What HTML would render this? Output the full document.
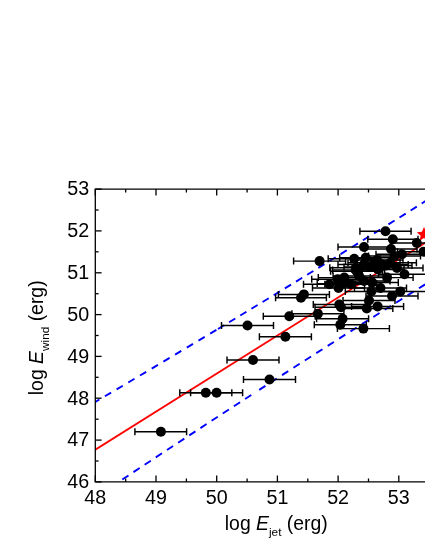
<!DOCTYPE html>
<html><head><meta charset="utf-8"><style>
html,body{margin:0;padding:0;background:#fff;}
body{width:425px;height:550px;position:relative;overflow:hidden;font-family:"Liberation Sans",sans-serif;}
</style></head><body>
<svg width="425" height="550" viewBox="0 0 425 550" style="position:absolute;left:0;top:0;will-change:transform">
<defs><clipPath id="c"><rect x="95.3" y="189.1" width="340" height="292.8"/></clipPath></defs>
<g clip-path="url(#c)">
<line x1="80" y1="459.29" x2="430" y2="239.84" stroke="#ff0000" stroke-width="1.8"/>
<path d="M81.50 410.03 L87.70 406.39 M93.20 403.16 L99.40 399.51 M104.90 396.27 L111.10 392.61 M116.60 389.36 L122.80 385.70 M128.30 382.45 L134.50 378.78 M140.00 375.52 L146.20 371.84 M151.70 368.57 L157.90 364.88 M163.40 361.61 L169.60 357.92 M175.10 354.64 L181.30 350.93 M186.80 347.64 L193.00 343.93 M198.50 340.64 L204.70 336.92 M210.20 333.61 L216.40 329.89 M217.95 328.95 L224.15 325.22 M229.10 322.23 L235.30 318.49 M240.25 315.50 L246.45 311.75 M251.40 308.75 L257.60 304.99 M262.55 301.98 L268.75 298.21 M273.70 295.20 L279.90 291.42 M284.85 288.40 L291.05 284.61 M296.00 281.58 L302.20 277.78 M307.15 274.75 L313.35 270.94 M318.30 267.90 L324.50 264.08 M329.45 261.03 L335.65 257.20 M340.60 254.14 L346.80 250.30 M351.75 247.24 L357.95 243.39 M362.90 240.31 L369.10 236.46 M374.05 233.37 L380.25 229.51 M388.40 224.42 L394.60 220.54 M399.50 217.47 L405.70 213.58 M410.60 210.50 L416.80 206.60 M421.70 203.51 L427.90 199.60 M432.80 196.51 L439.00 192.59" fill="none" stroke="#0000ff" stroke-width="1.9"/>
<path d="M88.82 501.80 L95.02 497.67 M99.98 494.37 L106.18 490.25 M111.14 486.95 L117.34 482.84 M122.30 479.55 L128.50 475.44 M133.46 472.16 L139.66 468.06 M144.62 464.78 L150.82 460.68 M155.78 457.41 L161.98 453.33 M166.94 450.06 L173.14 445.98 M178.10 442.72 L184.30 438.65 M189.26 435.40 L195.46 431.34 M200.42 428.09 L206.62 424.04 M211.58 420.80 L217.78 416.75 M222.74 413.52 L228.94 409.49 M233.90 406.26 L240.10 402.23 M245.06 399.01 L251.26 394.99 M259.22 389.84 L265.42 385.83 M270.63 382.47 L276.83 378.47 M282.04 375.11 L288.24 371.13 M293.45 367.78 L299.65 363.80 M304.86 360.46 L311.06 356.49 M316.27 353.16 L322.47 349.20 M327.68 345.88 L333.88 341.93 M339.09 338.61 L345.29 334.67 M350.50 331.37 L356.70 327.44 M361.91 324.14 L368.11 320.22 M373.32 316.93 L379.52 313.02 M384.73 309.74 L390.93 305.85 M396.14 302.57 L402.34 298.69 M407.55 295.42 L413.75 291.55 M418.96 288.29 L425.16 284.42 M430.37 281.18 L436.57 277.32 M441.78 274.08 L447.98 270.24" fill="none" stroke="#0000ff" stroke-width="1.9"/>
</g>
<g stroke="#000" stroke-width="1.3" fill="none">
<path d="M425 189.1 H95.3 V481.9 H425"/>
<path d="M95.3 481.9 v-6.3 M95.3 189.1 v6.3"/>
<path d="M125.7 481.9 v-3.3 M125.7 189.1 v3.3"/>
<path d="M156.0 481.9 v-6.3 M156.0 189.1 v6.3"/>
<path d="M186.4 481.9 v-3.3 M186.4 189.1 v3.3"/>
<path d="M216.7 481.9 v-6.3 M216.7 189.1 v6.3"/>
<path d="M247.1 481.9 v-3.3 M247.1 189.1 v3.3"/>
<path d="M277.4 481.9 v-6.3 M277.4 189.1 v6.3"/>
<path d="M307.8 481.9 v-3.3 M307.8 189.1 v3.3"/>
<path d="M338.1 481.9 v-6.3 M338.1 189.1 v6.3"/>
<path d="M368.5 481.9 v-3.3 M368.5 189.1 v3.3"/>
<path d="M398.8 481.9 v-6.3 M398.8 189.1 v6.3"/>
<path d="M429.2 481.9 v-3.3 M429.2 189.1 v3.3"/>
<path d="M95.3 481.9 h6.3"/>
<path d="M95.3 461.0 h3.3"/>
<path d="M95.3 440.1 h6.3"/>
<path d="M95.3 419.2 h3.3"/>
<path d="M95.3 398.2 h6.3"/>
<path d="M95.3 377.3 h3.3"/>
<path d="M95.3 356.4 h6.3"/>
<path d="M95.3 335.5 h3.3"/>
<path d="M95.3 314.6 h6.3"/>
<path d="M95.3 293.7 h3.3"/>
<path d="M95.3 272.8 h6.3"/>
<path d="M95.3 251.8 h3.3"/>
<path d="M95.3 230.9 h6.3"/>
<path d="M95.3 210.0 h3.3"/>
<path d="M95.3 189.1 h6.3"/>
</g>
<polygon points="424.00,227.00 426.06,231.77 431.23,232.25 427.33,235.68 428.47,240.75 424.00,238.10 419.53,240.75 420.67,235.68 416.77,232.25 421.94,231.77" fill="#ff0000"/>
<g stroke="#000" stroke-width="1.45" fill="none">
<path d="M134.9 431.8 H186.6 M134.9 428.3 v7 M186.6 428.3 v7"/>
<path d="M179.8 392.8 H231.8 M179.8 389.3 v7 M231.8 389.3 v7"/>
<path d="M190.6 392.8 H242.6 M190.6 389.3 v7 M242.6 389.3 v7"/>
<path d="M243.5 379.5 H295.5 M243.5 376.0 v7 M295.5 376.0 v7"/>
<path d="M227.0 360.0 H279.0 M227.0 356.5 v7 M279.0 356.5 v7"/>
<path d="M221.5 325.5 H273.5 M221.5 322.0 v7 M273.5 322.0 v7"/>
<path d="M259.4 336.7 H311.4 M259.4 333.2 v7 M311.4 333.2 v7"/>
<path d="M263.3 316.2 H315.3 M263.3 312.7 v7 M315.3 312.7 v7"/>
<path d="M278.4 294.4 H329.4 M278.4 290.9 v7 M329.4 290.9 v7"/>
<path d="M293.6 261.1 H345.6 M293.6 257.6 v7 M345.6 257.6 v7"/>
<path d="M359.9 231.2 H411.1 M359.9 227.7 v7 M411.1 227.7 v7"/>
<path d="M367.8 239.3 H418.0 M367.8 235.8 v7 M418.0 235.8 v7"/>
<path d="M338.0 247.0 H390.0 M338.0 243.5 v7 M390.0 243.5 v7"/>
<path d="M390.8 243.0 H442.8 M390.8 239.5 v7 M442.8 239.5 v7"/>
<path d="M365.0 249.0 H417.0 M365.0 245.5 v7 M417.0 245.5 v7"/>
<path d="M397.5 251.8 H449.5 M397.5 248.3 v7 M449.5 248.3 v7"/>
<path d="M328.2 258.8 H380.2 M328.2 255.3 v7 M380.2 255.3 v7"/>
<path d="M339.7 257.8 H391.7 M339.7 254.3 v7 M391.7 254.3 v7"/>
<path d="M376.0 254.2 H428.0 M376.0 250.7 v7 M428.0 250.7 v7"/>
<path d="M368.5 256.0 H420.5 M368.5 252.5 v7 M420.5 252.5 v7"/>
<path d="M329.8 267.7 H381.8 M329.8 264.2 v7 M381.8 264.2 v7"/>
<path d="M338.0 264.4 H390.0 M338.0 260.9 v7 M390.0 260.9 v7"/>
<path d="M348.0 262.8 H400.0 M348.0 259.3 v7 M400.0 259.3 v7"/>
<path d="M356.2 264.4 H408.2 M356.2 260.9 v7 M408.2 260.9 v7"/>
<path d="M364.4 262.8 H416.4 M364.4 259.3 v7 M416.4 259.3 v7"/>
<path d="M371.0 268.0 H423.0 M371.0 264.5 v7 M423.0 264.5 v7"/>
<path d="M378.5 274.3 H430.5 M378.5 270.8 v7 M430.5 270.8 v7"/>
<path d="M361.1 277.6 H413.1 M361.1 274.1 v7 M413.1 274.1 v7"/>
<path d="M333.1 276.0 H385.1 M333.1 272.5 v7 M385.1 272.5 v7"/>
<path d="M303.5 284.2 H355.5 M303.5 280.7 v7 M355.5 280.7 v7"/>
<path d="M311.7 279.2 H363.7 M311.7 275.7 v7 M363.7 275.7 v7"/>
<path d="M318.3 277.6 H370.3 M318.3 274.1 v7 M370.3 274.1 v7"/>
<path d="M312.5 288.0 H364.5 M312.5 284.5 v7 M364.5 284.5 v7"/>
<path d="M324.9 284.2 H376.9 M324.9 280.7 v7 M376.9 280.7 v7"/>
<path d="M338.0 280.9 H390.0 M338.0 277.4 v7 M390.0 277.4 v7"/>
<path d="M346.3 282.5 H398.3 M346.3 279.0 v7 M398.3 279.0 v7"/>
<path d="M354.5 288.0 H406.5 M354.5 284.5 v7 M406.5 284.5 v7"/>
<path d="M345.3 291.4 H397.3 M345.3 287.9 v7 M397.3 287.9 v7"/>
<path d="M374.3 291.4 H426.3 M374.3 287.9 v7 M426.3 287.9 v7"/>
<path d="M366.0 296.0 H418.0 M366.0 292.5 v7 M418.0 292.5 v7"/>
<path d="M343.0 300.5 H395.0 M343.0 297.0 v7 M395.0 297.0 v7"/>
<path d="M315.0 307.2 H367.0 M315.0 303.7 v7 M367.0 303.7 v7"/>
<path d="M340.8 308.4 H392.8 M340.8 304.9 v7 M392.8 304.9 v7"/>
<path d="M351.6 306.4 H403.6 M351.6 302.9 v7 M403.6 302.9 v7"/>
<path d="M291.9 313.8 H343.9 M291.9 310.3 v7 M343.9 310.3 v7"/>
<path d="M316.6 318.8 H368.6 M316.6 315.3 v7 M368.6 315.3 v7"/>
<path d="M314.3 324.7 H366.3 M314.3 321.2 v7 M366.3 321.2 v7"/>
<path d="M337.4 328.6 H389.4 M337.4 325.1 v7 M389.4 325.1 v7"/>
<path d="M351.0 260.0 H403.0 M351.0 256.5 v7 M403.0 256.5 v7"/>
<path d="M330.6 271.3 H382.6 M330.6 267.8 v7 M382.6 267.8 v7"/>
<path d="M332.6 270.0 H384.6 M332.6 266.5 v7 M384.6 266.5 v7"/>
<path d="M317.2 283.6 H369.2 M317.2 280.1 v7 M369.2 280.1 v7"/>
<path d="M344.0 267.0 H396.0 M344.0 263.5 v7 M396.0 263.5 v7"/>
<path d="M360.0 265.5 H412.0 M360.0 262.0 v7 M412.0 262.0 v7"/>
<path d="M352.0 269.5 H404.0 M352.0 266.0 v7 M404.0 266.0 v7"/>
<path d="M275.6 297.8 H326.4 M275.6 294.3 v7 M326.4 294.3 v7"/>
<path d="M313.3 304.5 H365.3 M313.3 301.0 v7 M365.3 301.0 v7"/>
</g>
<g fill="#000">
<circle cx="160.9" cy="431.8" r="5"/>
<circle cx="205.8" cy="392.8" r="5"/>
<circle cx="216.6" cy="392.8" r="5"/>
<circle cx="269.5" cy="379.5" r="5"/>
<circle cx="253.0" cy="360.0" r="5"/>
<circle cx="247.5" cy="325.5" r="5"/>
<circle cx="285.4" cy="336.7" r="5"/>
<circle cx="289.3" cy="316.2" r="5"/>
<circle cx="303.9" cy="294.4" r="5"/>
<circle cx="319.6" cy="261.1" r="5"/>
<circle cx="385.5" cy="231.2" r="5"/>
<circle cx="392.8" cy="239.3" r="5"/>
<circle cx="364.0" cy="247.0" r="5"/>
<circle cx="416.8" cy="243.0" r="5"/>
<circle cx="391.0" cy="249.0" r="5"/>
<circle cx="423.5" cy="251.8" r="5"/>
<circle cx="354.2" cy="258.8" r="5"/>
<circle cx="365.7" cy="257.8" r="5"/>
<circle cx="402.0" cy="254.2" r="5"/>
<circle cx="394.5" cy="256.0" r="5"/>
<circle cx="355.8" cy="267.7" r="5"/>
<circle cx="364.0" cy="264.4" r="5"/>
<circle cx="374.0" cy="262.8" r="5"/>
<circle cx="382.2" cy="264.4" r="5"/>
<circle cx="390.4" cy="262.8" r="5"/>
<circle cx="397.0" cy="268.0" r="5"/>
<circle cx="404.5" cy="274.3" r="5"/>
<circle cx="387.1" cy="277.6" r="5"/>
<circle cx="359.1" cy="276.0" r="5"/>
<circle cx="329.5" cy="284.2" r="5"/>
<circle cx="337.7" cy="279.2" r="5"/>
<circle cx="344.3" cy="277.6" r="5"/>
<circle cx="338.5" cy="288.0" r="5"/>
<circle cx="350.9" cy="284.2" r="5"/>
<circle cx="364.0" cy="280.9" r="5"/>
<circle cx="372.3" cy="282.5" r="5"/>
<circle cx="380.5" cy="288.0" r="5"/>
<circle cx="371.3" cy="291.4" r="5"/>
<circle cx="400.3" cy="291.4" r="5"/>
<circle cx="392.0" cy="296.0" r="5"/>
<circle cx="369.0" cy="300.5" r="5"/>
<circle cx="341.0" cy="307.2" r="5"/>
<circle cx="366.8" cy="308.4" r="5"/>
<circle cx="377.6" cy="306.4" r="5"/>
<circle cx="317.9" cy="313.8" r="5"/>
<circle cx="342.6" cy="318.8" r="5"/>
<circle cx="340.3" cy="324.7" r="5"/>
<circle cx="363.4" cy="328.6" r="5"/>
<circle cx="377.0" cy="260.0" r="5"/>
<circle cx="356.6" cy="271.3" r="5"/>
<circle cx="358.6" cy="270.0" r="5"/>
<circle cx="343.2" cy="283.6" r="5"/>
<circle cx="370.0" cy="267.0" r="5"/>
<circle cx="386.0" cy="265.5" r="5"/>
<circle cx="378.0" cy="269.5" r="5"/>
<circle cx="301.0" cy="297.8" r="5"/>
<circle cx="339.3" cy="304.5" r="5"/>
</g>
<g font-family="Liberation Sans, sans-serif" font-size="19.7" fill="#000">
<text x="95.3" y="503.8" text-anchor="middle">48</text>
<text x="156.0" y="503.8" text-anchor="middle">49</text>
<text x="216.7" y="503.8" text-anchor="middle">50</text>
<text x="277.4" y="503.8" text-anchor="middle">51</text>
<text x="338.1" y="503.8" text-anchor="middle">52</text>
<text x="398.8" y="503.8" text-anchor="middle">53</text>
<text x="89.1" y="488.2" text-anchor="end">46</text>
<text x="89.1" y="446.4" text-anchor="end">47</text>
<text x="89.1" y="404.5" text-anchor="end">48</text>
<text x="89.1" y="362.7" text-anchor="end">49</text>
<text x="89.1" y="320.9" text-anchor="end">50</text>
<text x="89.1" y="279.1" text-anchor="end">51</text>
<text x="89.1" y="237.2" text-anchor="end">52</text>
<text x="89.1" y="195.4" text-anchor="end">53</text>
<text x="224.8" y="530" font-size="19.4"><tspan>log </tspan><tspan font-style="italic">E</tspan><tspan font-size="11.8" dy="6">jet</tspan><tspan dy="-6"> (erg)</tspan></text>
<text transform="translate(42.5,395.2) rotate(-90)" font-size="19.4"><tspan>log </tspan><tspan font-style="italic">E</tspan><tspan font-size="11.8" dy="6">wind</tspan><tspan dy="-6"> (erg)</tspan></text>
</g>
</svg>
</body></html>
